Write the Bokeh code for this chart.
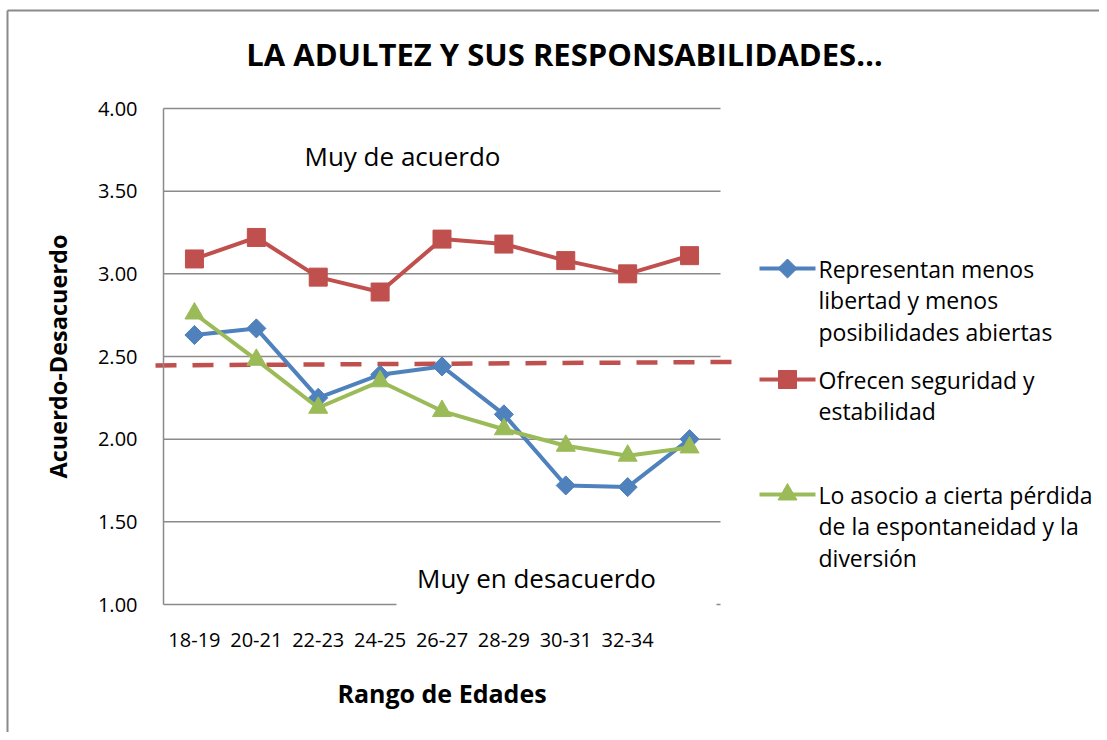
import numpy as np
from bokeh.plotting import figure
from bokeh.models import (Range1d, FixedTicker, PrintfTickFormatter, Arrow, Label,
                          BoxAnnotation)
from bokeh.embed import file_html
from bokeh.resources import INLINE

# ---------------- data ----------------
title_text = "LA ADULTEZ Y SUS RESPONSABILIDADES…"
x_title = "Rango de Edades"
y_title = "Acuerdo-Desacuerdo"
categories = ["18-19", "20-21", "22-23", "24-25", "26-27", "28-29", "30-31", "32-34", ""]
menos_libertad = [2.63, 2.67, 2.25, 2.39, 2.44, 2.15, 1.72, 1.71, 2.00]
seguridad = [3.09, 3.22, 2.98, 2.89, 3.21, 3.18, 3.08, 3.00, 3.11]
espontaneidad = [2.76, 2.48, 2.19, 2.35, 2.17, 2.06, 1.96, 1.90, 1.95]
legend_labels = [
    ["Representan menos", "libertad y menos", "posibilidades abiertas"],
    ["Ofrecen seguridad y", "estabilidad"],
    ["Lo asocio a cierta pérdida", "de la espontaneidad y la", "diversión"],
]
y_ticks = [1.0, 1.5, 2.0, 2.5, 3.0, 3.5, 4.0]
ref_line = [2.446, 2.467]          # dashed reference line (start, end)
top_note = "Muy de acuerdo"
bottom_note = "Muy en desacuerdo"

# ---------------- styles / layout ----------------
colors = ["#4F81BD", "#C0504D", "#9BBB59"]
grey = "#8a8a8a"
FONT = "Open Sans"

W, H = 1099, 732                     # canvas
FL, FT, FW, FH = 163, 108, 557, 496  # plotting area in canvas pixels
TS = 10                              # text baseline correction (px)

n = len(categories)
y0, y1 = y_ticks[0], y_ticks[-1]
ppx = FW / n                 # pixels per category
ppy = FH / (y1 - y0)         # pixels per unit


def dx(ax):
    return (ax - FL) / ppx


def dy(ay):
    return y1 - (ay - FT) / ppy


p = figure(width=W, height=H,
           x_range=Range1d(dx(0), dx(W)), y_range=Range1d(dy(H), dy(0)),
           output_backend="svg", toolbar_location=None,
           min_border_left=0, min_border_top=0, min_border_right=0, min_border_bottom=0)
p.outline_line_color = None
p.background_fill_color = "white"
p.border_fill_color = "white"
p.xgrid.visible = False
p.ygrid.visible = False

xs = [i + 0.5 for i in range(n)]

# x axis (fixed at the bottom of the value range)
xax = p.xaxis[0]
xax.fixed_location = y0
xax.bounds = (0, n)
xax.ticker = FixedTicker(ticks=[x for x, c in zip(xs, categories) if c])
xax.major_label_overrides = {x: c for x, c in zip(xs, categories) if c}
xax.axis_line_color = None
xax.major_tick_line_color = None
xax.minor_tick_line_color = None
xax.major_tick_out = 0
xax.major_tick_in = 0
xax.major_label_standoff = 28
xax.major_label_text_font = FONT
xax.major_label_text_font_size = "20px"
xax.major_label_text_color = "black"
xax.axis_label = x_title
xax.axis_label_text_font = FONT
xax.axis_label_text_font_style = "bold"
xax.axis_label_text_font_size = "25px"
xax.axis_label_text_color = "black"
xax.axis_label_standoff = 26

# y axis (fixed at the start of the category range)
yax = p.yaxis[0]
yax.fixed_location = 0
yax.bounds = (y0, y1)
yax.ticker = FixedTicker(ticks=y_ticks)
yax.formatter = PrintfTickFormatter(format="%.2f")
yax.axis_line_color = grey
yax.axis_line_width = 1.5
yax.major_tick_line_color = None
yax.minor_tick_line_color = None
yax.major_tick_out = 0
yax.major_tick_in = 0
yax.major_label_standoff = 26
yax.major_label_text_font = FONT
yax.major_label_text_font_size = "20px"
yax.major_label_text_color = "black"
yax.axis_label = y_title
yax.axis_label_text_font = FONT
yax.axis_label_text_font_style = "bold"
yax.axis_label_text_font_size = "23.5px"
yax.axis_label_text_color = "black"
yax.axis_label_standoff = 21

# horizontal gridlines over the category range
p.segment(x0=[0] * len(y_ticks), y0=y_ticks, x1=[n] * len(y_ticks), y1=y_ticks,
          line_color=grey, line_width=1.5)

# dashed reference line
p.add_layout(Arrow(end=None, x_start=dx(155), y_start=ref_line[0],
                   x_end=dx(736), y_end=ref_line[1],
                   line_color=colors[1], line_width=4.5, line_dash="21 16",
                   level="underlay"))

# series
series = [menos_libertad, seguridad, espontaneidad]
markers = [("square", 13.5, np.pi / 4), ("square", 18, 0.0), ("triangle", 19, 0.0)]
for vals, col, (mk, sz, ang) in zip(series, colors, markers):
    p.line(xs, vals, line_color=col, line_width=4)
    p.scatter(xs, vals, marker=mk, size=sz, angle=ang, fill_color=col, line_color=col)

# notes
p.add_layout(Label(x=dx(402), y=dy(165 - TS), text=top_note, text_align="center",
                   text_baseline="alphabetic", text_font=FONT, text_font_size="26px",
                   text_color="black"))
p.add_layout(BoxAnnotation(left=dx(396), right=dx(716), top=dy(552), bottom=dy(612),
                           fill_color="white", fill_alpha=1.0, line_color=None,
                           level="overlay"))
p.add_layout(Label(x=dx(536), y=dy(587 - TS), text=bottom_note, text_align="center",
                   text_baseline="alphabetic", text_font=FONT, text_font_size="26px",
                   text_color="black", level="overlay"))

# title
p.add_layout(Label(x=dx(564), y=dy(63 - TS), text=title_text, text_align="center",
                   text_baseline="alphabetic", text_font=FONT, text_font_style="bold",
                   text_font_size="31px", text_color="black"))

# legend (manual, multi-line)
leg_y = [268, 379, 494]
LX0, LX1, LMX, LTX = 759, 815, 787, 818
for k, (gy, col, lines) in enumerate(zip(leg_y, colors, legend_labels)):
    mk, sz, ang = markers[k]
    p.segment(x0=[dx(LX0)], y0=[dy(gy)], x1=[dx(LX1)], y1=[dy(gy)],
              line_color=col, line_width=4)
    p.scatter([dx(LMX)], [dy(gy)], marker=mk, size=sz, angle=ang,
              fill_color=col, line_color=col)
    for j, t in enumerate(lines):
        p.add_layout(Label(x=dx(LTX), y=dy(gy + 10 - TS + 31.5 * j), text=t,
                           text_align="left", text_baseline="alphabetic",
                           text_font=FONT, text_font_size="23px", text_color="black"))

# chart-area border (left & top)
p.segment(x0=[dx(7), dx(7)], y0=[dy(10), dy(10)], x1=[dx(7), dx(W)], y1=[dy(H), dy(10)],
          line_color=grey, line_width=2)

open("out.html", "w").write(file_html(p, INLINE))
